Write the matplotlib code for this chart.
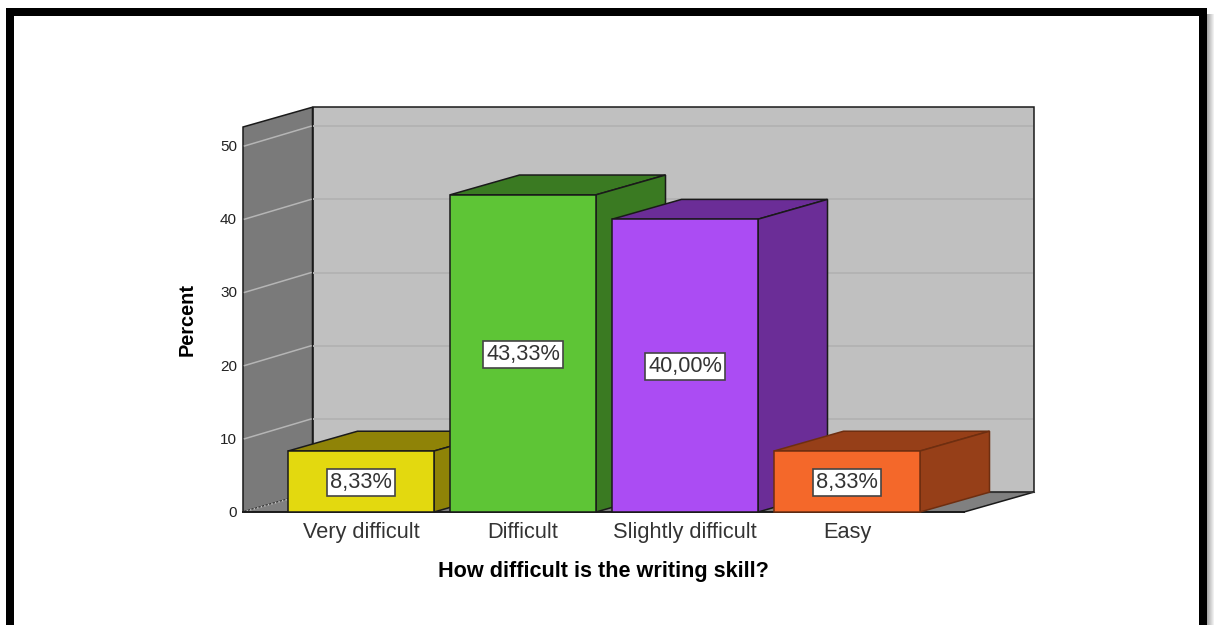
import matplotlib
matplotlib.use('Agg')
import matplotlib.pyplot as plt
from matplotlib.patches import Polygon

plt.rcParams['font.family'] = 'Liberation Sans'

categories = ['Very difficult', 'Difficult', 'Slightly difficult', 'Easy']
percent = [8.33, 43.33, 40.00, 8.33]
value_labels = ['8,33%', '43,33%', '40,00%', '8,33%']
y_ticks = [0, 10, 20, 30, 40, 50]
front_colors = ['#e3d90f', '#5ec536', '#ab4cf3', '#f4682a']
side_colors = ['#8f8307', '#3a7a22', '#6b2d97', '#963f18']
edge_colors = ['#1a1a1a', '#1a1a1a', '#1a1a1a', '#6e2e10']

W, H = 1214, 625
X_UNIT = 162.0   # px per category
Y_UNIT = 7.32    # px per percent
X0_PX, Y0_PX = 361, 512

# depth of the fake 3d box, in data units
DX = 69.5 / X_UNIT
DY = 19.8 / Y_UNIT
BAR_W = 146 / X_UNIT
LEFT = (243 - X0_PX) / X_UNIT
RIGHT = (964 - X0_PX) / X_UNIT
TOP = (512 - 127) / Y_UNIT

fig = plt.figure(figsize=(W / 100, H / 100), dpi=100)
ax = fig.add_axes([0, 0, 1, 1])
ax.set_xlim(-X0_PX / X_UNIT, (W - X0_PX) / X_UNIT)
ax.set_ylim((Y0_PX - H) / Y_UNIT, Y0_PX / Y_UNIT)
ax.axis('off')


def poly(pts, fc, ec='#1a1a1a', lw=1.1, z=1):
    ax.add_patch(Polygon(pts, closed=True, fc=fc, ec=ec, lw=lw, zorder=z, joinstyle='miter'))


# back wall, side wall, floor
poly([(LEFT + DX, DY), (RIGHT + DX, DY), (RIGHT + DX, TOP + DY), (LEFT + DX, TOP + DY)], '#c0c0c0')
poly([(LEFT, 0), (LEFT + DX, DY), (LEFT + DX, TOP + DY), (LEFT, TOP)], '#7a7a7a')
poly([(LEFT, 0), (RIGHT, 0), (RIGHT + DX, DY), (LEFT + DX, DY)], '#808080', ec='none')

inset = 1.5 / X_UNIT
for t in y_ticks[1:]:
    ax.plot([LEFT + inset, LEFT + DX - inset], [t, t + DY], color='#b5b5b5', lw=1.1, zorder=2)
    ax.plot([LEFT + DX + inset, RIGHT + DX - inset], [t + DY, t + DY], color='#b3b3b3', lw=1.4, zorder=2)
ax.plot([LEFT, LEFT + DX], [0, DY], color='#c8c8c8', lw=1.0, ls=':', zorder=2)

# floor edges
ax.plot([RIGHT, RIGHT + DX], [0, DY], color='#1a1a1a', lw=1.1, zorder=2)
ax.plot([LEFT + DX, RIGHT + DX], [DY, DY], color='#333333', lw=0.8, zorder=2)
ax.plot([LEFT, RIGHT], [0, 0], color='#1a1a1a', lw=1.4, zorder=2)

for i, v in enumerate(percent):
    z = 3 + i
    x1 = i - BAR_W / 2
    x2 = i + BAR_W / 2
    poly([(x1, v), (x2, v), (x2 + DX, v + DY), (x1 + DX, v + DY)], side_colors[i], ec=edge_colors[i], z=z)
    poly([(x2, 0), (x2 + DX, DY), (x2 + DX, v + DY), (x2, v)], side_colors[i], ec=edge_colors[i], z=z)
    ax.bar(i, v, width=BAR_W, color=front_colors[i], edgecolor=edge_colors[i], lw=1.1, zorder=z)
    ax.text(i, v / 2 - 1 / Y_UNIT, value_labels[i], ha='center', va='center', fontsize=15.7, color='#333333', zorder=10,
            bbox=dict(boxstyle='square,pad=0.12', fc='white', ec='#444444', lw=1.2))

for t in y_ticks:
    ax.text(LEFT - 6 / X_UNIT, t - 1 / Y_UNIT, str(t), ha='right', va='center', fontsize=11, color='#222222')

# every label gets a descender-safe line so they share one baseline
for i, c in enumerate(categories):
    ax.annotate(c, xy=(i, 0), xytext=(0, -26 * 0.72), textcoords='offset points',
                ha='center', va='baseline', fontsize=15.7, color='#333333')

ax.text((603.5 - X0_PX) / X_UNIT, (512 - 572) / Y_UNIT, 'How difficult is the writing skill?',
        ha='center', va='center', fontsize=15.6, fontweight='bold', color='black')
ax.text((187.5 - X0_PX) / X_UNIT, (512 - 319) / Y_UNIT, 'Percent', rotation=90,
        ha='center', va='center', fontsize=14.4, fontweight='bold', color='black')

# picture frame with grey shadow on the right
frame = fig.add_axes([0, 0, 1, 1], facecolor='none')
frame.set_xlim(0, W)
frame.set_ylim(H, 0)
frame.axis('off')
frame.fill_between([6, 14], 8, H, color='black', lw=0)
frame.fill_between([1199, 1207], 8, H, color='black', lw=0)
frame.fill_between([6, 1207], 8, 16, color='black', lw=0)
for k, g in enumerate(['#a8a8a8', '#b4b4b4', '#c0c0c0', '#cccccc', '#d8d8d8', '#e4e4e4', '#f0f0f0']):
    frame.fill_between([1207 + k, 1208 + k], 14, H, color=g, lw=0)

fig.savefig('out.png', dpi=100)
